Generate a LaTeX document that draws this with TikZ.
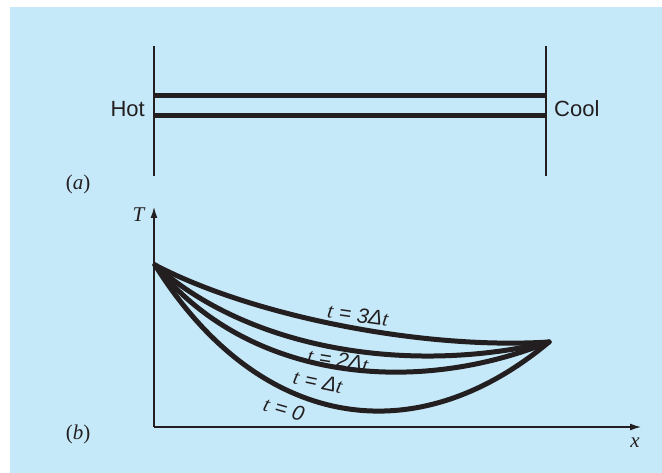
\documentclass[tikz,border=0pt]{standalone}
\usepackage{fontspec}
\setmainfont{Liberation Serif}
\setsansfont{Liberation Sans}
\usetikzlibrary{arrows.meta}
\definecolor{bg}{RGB}{198,233,249}
\definecolor{ink}{RGB}{35,31,32}
\tikzset{
  thin line/.style={draw=ink, line width=1.3pt},
  bar/.style={draw=ink, line width=5pt},
  curve/.style={draw=ink, line width=5pt, line cap=round, line join=round},
  axis/.style={draw=ink, line width=1.3pt, -{Latex[length=11pt,width=7pt]}},
  word/.style={text=ink, font=\sffamily\fontsize{22}{26}\selectfont, inner sep=0pt},
  lab/.style={text=ink, font=\fontsize{21}{24}\selectfont, inner sep=0pt},
  tlab/.style={text=ink, font=\sffamily\itshape\fontsize{21}{24}\selectfont, inner sep=0pt}
}
\begin{document}
\begin{tikzpicture}[x=1pt,y=-1pt]
\useasboundingbox (0,0) rectangle (662,473);
\fill[bg] (10,7) rectangle (662,473);
% part (a)
\coordinate (L1) at (154,46);
\coordinate (L2) at (154,176);
\coordinate (R1) at (546,46);
\coordinate (R2) at (546,176);
\coordinate (UL) at (154,96);
\coordinate (UR) at (546,96);
\coordinate (DL) at (154,116);
\coordinate (DR) at (546,116);
\draw[thin line] (L1) -- (L2);
\draw[thin line] (R1) -- (R2);
\draw[bar] (UL) -- (UR);
\draw[bar] (DL) -- (DR);
\node[word, anchor=base east] (hot) at (145,117) {Hot};
\node[word, anchor=base west] (cool) at (554,117) {Cool};
\node[lab] (pa) at (78,184) {(\textit{a})};
% part (b)
\coordinate (O) at (154,427);
\coordinate (Ttip) at (154,207);
\coordinate (Xtip) at (641,427);
\draw[axis] (O) -- (Ttip);
\draw[axis] (O) -- (Xtip);
\node[lab] (Tl) at (139,215) {\textit{T}};
\node[lab] (Xl) at (635,443) {\textit{x}};
\node[lab] (pb) at (78,434) {(\textit{b})};
\coordinate (A) at (155,265);
\coordinate (B) at (549,342);
\draw[curve] (A) .. controls (250,315) and (420,350) .. (B);
\draw[curve] (A) .. controls (250,350) and (410,375) .. (B);
\draw[curve] (A) .. controls (245,378) and (410,398) .. (B);
\draw[curve] (A) .. controls (255,425) and (410,458) .. (B);
\node[tlab, rotate=-8] (l3) at (358,315) {\rmfamily\itshape t\sffamily\itshape{} = 3Δ\rmfamily\itshape t};
\node[tlab, rotate=-9] (l2) at (338,360) {\rmfamily\itshape t\sffamily\itshape{} = 2Δ\rmfamily\itshape t};
\node[tlab, rotate=-12] (l1) at (318,382) {\rmfamily\itshape t\sffamily\itshape{} = Δ\rmfamily\itshape t};
\node[tlab, rotate=-16] (l0) at (284,409) {\rmfamily\itshape t\sffamily\itshape{} = 0};
\end{tikzpicture}
\end{document}
